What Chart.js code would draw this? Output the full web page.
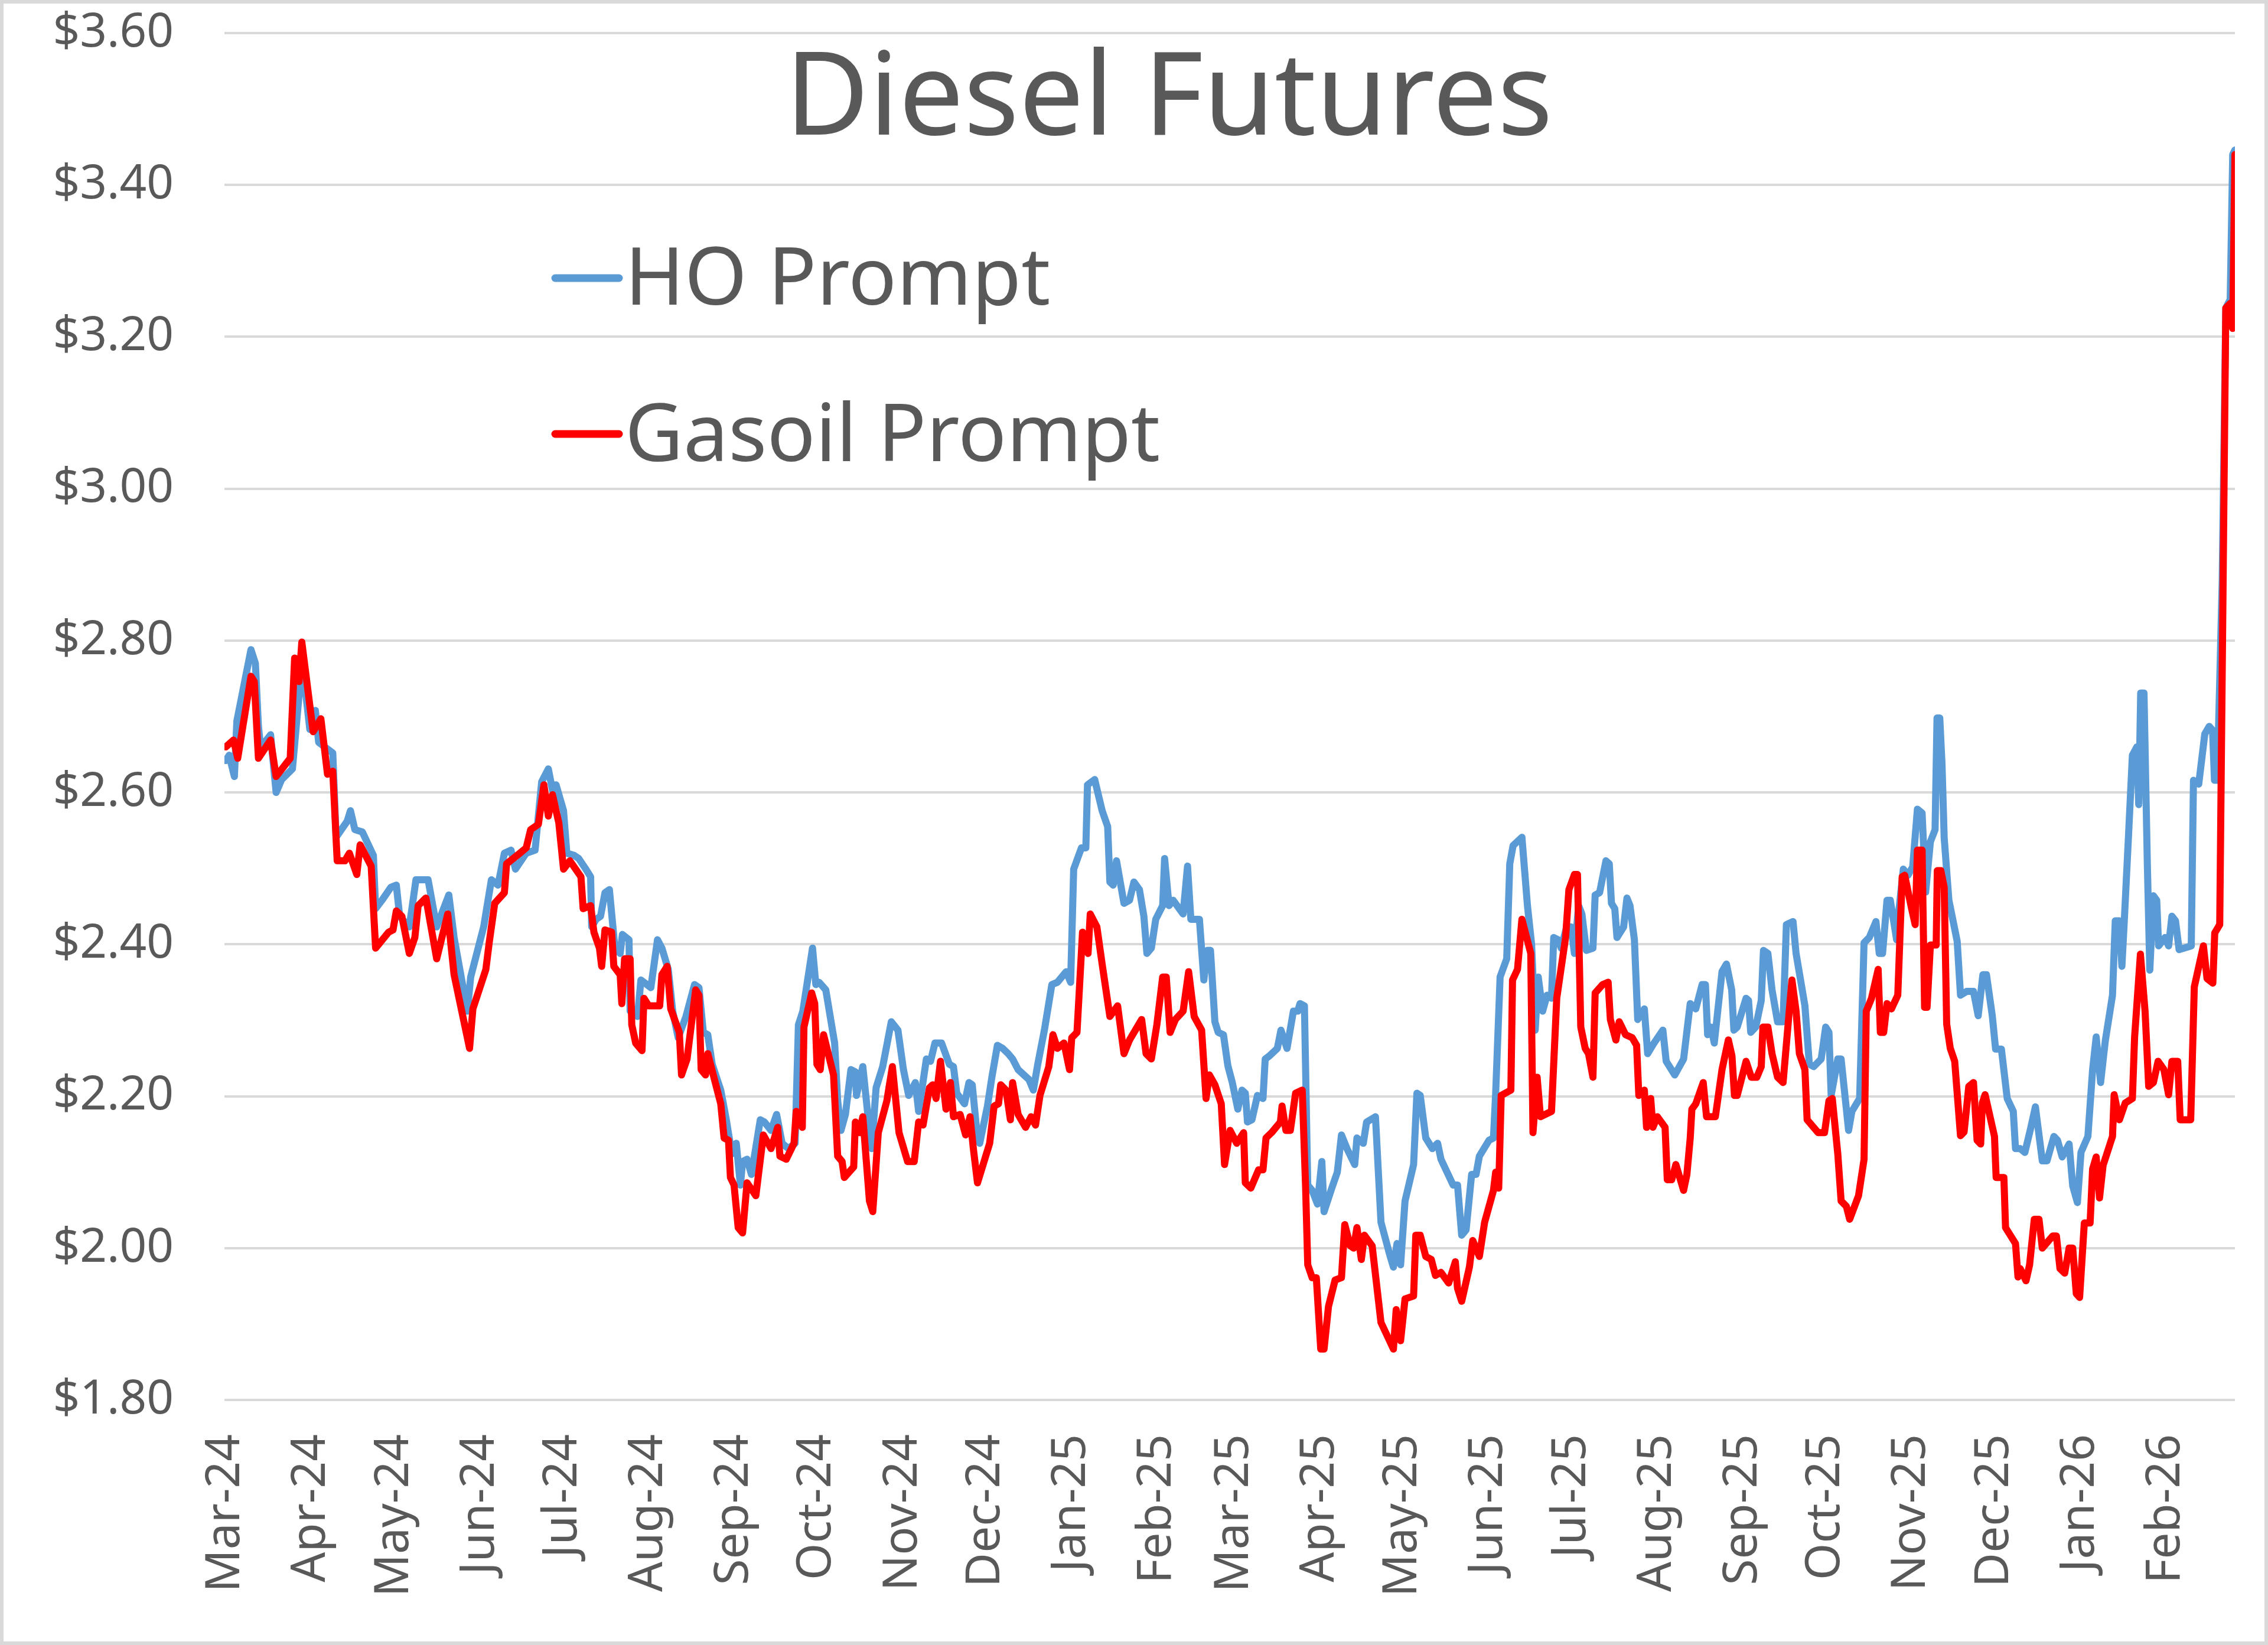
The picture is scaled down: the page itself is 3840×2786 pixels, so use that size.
<!DOCTYPE html>
<html>
<head>
<meta charset="utf-8">
<script src="https://cdn.jsdelivr.net/npm/chart.js@4.4.1/dist/chart.umd.min.js"></script>
<style>
  html, body { margin: 0; padding: 0; background: #ffffff; }
  #wrap { width: 3840px; height: 2786px; }
</style>
</head>
<body>
<div id="wrap"><canvas id="c" width="3840" height="2786"></canvas></div>
<script>
// x values are calendar days since 1-Mar-2024, y values are $/gal
const chartTitle = 'Diesel Futures';
const seriesNames = ['HO Prompt', 'Gasoil Prompt'];

const monthTickDays = [0,31,61,92,122,153,184,214,245,275,306,337,365,396,426,457,487,518,549,579,610,640,671,702];
const monthLabels = ['Mar-24','Apr-24','May-24','Jun-24','Jul-24','Aug-24','Sep-24','Oct-24','Nov-24','Dec-24',
  'Jan-25','Feb-25','Mar-25','Apr-25','May-25','Jun-25','Jul-25','Aug-25','Sep-25','Oct-25','Nov-25','Dec-25','Jan-26','Feb-26'];
const yTicks = [1.8, 2.0, 2.2, 2.4, 2.6, 2.8, 3.0, 3.2, 3.4, 3.6];

const hoPrompt = [[0,2.642],[1.2,2.649],[3.1,2.621],[4.0,2.694],[9.1,2.788],[10.7,2.770],[11.8,2.687],[12.6,2.659],[16.2,2.676],[18.2,2.600],[20.2,2.617],[24.1,2.631],[26.5,2.728],[27.7,2.770],[30.4,2.683],[32.4,2.708],[33.6,2.666],[38.7,2.652],[39.9,2.541],[43.9,2.562],[45.1,2.576],[46.7,2.551],[49.4,2.548],[53.4,2.517],[54.2,2.447],[56.5,2.458],[59.7,2.475],[61.7,2.478],[62.9,2.437],[66.4,2.423],[68.8,2.485],[73.2,2.485],[76.3,2.423],[80.7,2.465],[82.6,2.409],[87.4,2.312],[88.6,2.357],[93.3,2.423],[96.1,2.485],[98.5,2.478],[100.8,2.520],[103.2,2.524],[104.8,2.499],[108.7,2.520],[111.9,2.524],[114.3,2.614],[116.7,2.631],[118.2,2.603],[119.5,2.610],[122.2,2.576],[123.4,2.520],[126.1,2.517],[127.7,2.513],[130.1,2.500],[132.0,2.489],[132.4,2.423],[134.0,2.433],[135.6,2.437],[137.2,2.468],[138.8,2.472],[140.8,2.395],[142.7,2.388],[143.5,2.413],[145.9,2.406],[146.3,2.312],[149.0,2.305],[150.2,2.353],[153.8,2.343],[156.2,2.406],[157.8,2.395],[160.1,2.367],[161.7,2.312],[163.7,2.277],[166.5,2.305],[169.6,2.347],[171.2,2.343],[172.8,2.284],[174.4,2.281],[176.0,2.242],[179.1,2.208],[181.1,2.169],[183.1,2.124],[184.7,2.138],[186.2,2.083],[187.0,2.114],[188.6,2.117],[190.2,2.097],[193.4,2.169],[194.9,2.166],[197.3,2.155],[199.3,2.176],[201.3,2.138],[203.6,2.131],[206.0,2.138],[207.2,2.294],[208.8,2.312],[212.3,2.395],[213.5,2.347],[214.7,2.350],[217.1,2.340],[220.3,2.270],[221.4,2.194],[222.6,2.155],[224.2,2.176],[226.2,2.235],[227.8,2.232],[228.2,2.201],[230.5,2.239],[232.1,2.183],[233.7,2.131],[235.3,2.211],[237.7,2.239],[240.8,2.298],[243.2,2.287],[245.2,2.235],[247.1,2.201],[249.5,2.218],[250.7,2.180],[253.5,2.249],[255.0,2.246],[256.6,2.270],[259.0,2.270],[261.8,2.242],[263.3,2.239],[264.5,2.204],[267.3,2.190],[268.9,2.218],[270.1,2.215],[271.6,2.159],[272.8,2.138],[275.6,2.187],[277.2,2.225],[279.2,2.267],[281.1,2.263],[283.1,2.256],[284.7,2.249],[286.7,2.235],[290.6,2.222],[292.2,2.208],[293.8,2.242],[296.2,2.287],[298.9,2.347],[300.9,2.350],[304.1,2.364],[305.7,2.350],[306.8,2.499],[309.6,2.527],[311.2,2.527],[311.8,2.610],[314.4,2.617],[317.1,2.576],[319.1,2.555],[319.9,2.482],[321.1,2.478],[322.3,2.510],[325.0,2.454],[327.0,2.458],[328.6,2.482],[330.6,2.472],[332.2,2.437],[333.3,2.388],[334.9,2.395],[336.5,2.433],[339.0,2.451],[339.7,2.513],[341.3,2.451],[342.8,2.458],[346.4,2.440],[348.0,2.503],[349.2,2.433],[352.3,2.433],[353.9,2.353],[355.1,2.392],[356.3,2.392],[357.9,2.298],[359.1,2.284],[361.0,2.281],[362.6,2.240],[364.2,2.218],[366.2,2.183],[367.7,2.208],[368.9,2.204],[369.7,2.166],[371.3,2.169],[373.3,2.201],[375.3,2.197],[376.1,2.249],[377.6,2.253],[380.5,2.263],[381.8,2.287],[384.0,2.263],[386.3,2.312],[387.9,2.312],[388.7,2.322],[390.3,2.319],[391.5,2.083],[393.1,2.076],[395.0,2.058],[396.6,2.114],[397.4,2.048],[400.2,2.079],[402.2,2.100],[403.7,2.149],[405.7,2.131],[408.5,2.110],[409.3,2.145],[411.6,2.138],[412.8,2.166],[416.0,2.173],[418.0,2.034],[421.1,1.992],[422.5,1.975],[423.8,2.006],[425.1,1.978],[426.7,2.062],[429.8,2.110],[431.0,2.204],[432.2,2.201],[434.2,2.145],[436.6,2.131],[438.5,2.138],[439.7,2.117],[444.1,2.083],[445.7,2.083],[447.2,2.017],[448.8,2.024],[450.8,2.097],[452.4,2.097],[453.6,2.121],[457.1,2.142],[458.7,2.145],[459.5,2.204],[461.1,2.357],[463.5,2.381],[464.6,2.506],[465.8,2.530],[469.0,2.541],[471.0,2.451],[472.5,2.400],[473.8,2.287],[474.9,2.357],[476.5,2.312],[478.1,2.333],[479.7,2.329],[480.5,2.409],[482.1,2.406],[483.2,2.395],[485.2,2.423],[486.8,2.423],[488.0,2.388],[489.5,2.451],[490.7,2.440],[492.3,2.392],[494.7,2.395],[495.5,2.465],[497.1,2.468],[499.4,2.510],[500.6,2.506],[501.4,2.454],[502.6,2.447],[503.4,2.409],[505.8,2.423],[507.0,2.461],[508.1,2.451],[509.7,2.406],[510.9,2.301],[513.3,2.315],[514.5,2.256],[516.8,2.270],[520.0,2.287],[521.2,2.246],[524.3,2.228],[527.5,2.249],[529.9,2.322],[531.9,2.315],[534.2,2.347],[535.4,2.347],[536.2,2.281],[537.4,2.291],[538.6,2.270],[541.4,2.364],[543.0,2.374],[544.9,2.340],[545.7,2.287],[546.9,2.291],[550.1,2.329],[551.0,2.326],[551.8,2.284],[553.6,2.291],[555.6,2.326],[556.4,2.392],[558.0,2.388],[559.5,2.340],[561.5,2.298],[563.5,2.298],[564.7,2.426],[567.1,2.430],[568.2,2.388],[571.4,2.319],[573.0,2.242],[574.6,2.239],[577.3,2.249],[578.9,2.291],[580.1,2.284],[580.9,2.201],[583.3,2.249],[584.5,2.249],[586.4,2.183],[587.2,2.155],[588.4,2.180],[591.2,2.197],[592.8,2.402],[594.7,2.409],[597.1,2.430],[598.3,2.388],[599.5,2.388],[601.1,2.458],[602.3,2.458],[604.6,2.406],[605.4,2.444],[607.0,2.499],[608.7,2.491],[610.4,2.502],[612.1,2.578],[613.8,2.573],[615.1,2.469],[616.8,2.535],[618.5,2.551],[619.2,2.698],[620.2,2.698],[621.0,2.638],[621.8,2.540],[623.5,2.458],[626.5,2.404],[627.7,2.333],[629.9,2.338],[632.4,2.338],[634.1,2.306],[635.8,2.360],[637.1,2.360],[639.2,2.306],[640.4,2.262],[642.5,2.262],[644.6,2.197],[646.8,2.180],[647.6,2.131],[649.3,2.131],[651.0,2.126],[653.1,2.158],[654.8,2.186],[657.3,2.115],[659.0,2.115],[661.5,2.147],[662.8,2.142],[664.5,2.120],[667.0,2.137],[668.3,2.082],[670.0,2.060],[671.3,2.126],[673.8,2.147],[675.5,2.235],[676.8,2.278],[678.4,2.218],[680.1,2.273],[682.7,2.333],[683.7,2.431],[685.2,2.431],[686.1,2.371],[686.9,2.426],[688.6,2.551],[689.9,2.649],[691.5,2.660],[692.2,2.584],[692.9,2.731],[694.1,2.731],[695.3,2.507],[696.2,2.366],[697.5,2.464],[698.7,2.458],[699.4,2.398],[701.7,2.409],[703.0,2.398],[704.2,2.437],[705.5,2.431],[706.8,2.393],[711.2,2.398],[712.0,2.616],[713.9,2.611],[716.1,2.677],[717.7,2.687],[718.9,2.682],[719.6,2.616],[720.6,2.616],[722.4,2.878],[723.7,3.238],[725.3,3.249],[726.2,3.440],[727.0,3.446]];

const gasoilPrompt = [[0,2.660],[2.8,2.669],[4.3,2.645],[9.1,2.753],[10.3,2.746],[11.8,2.645],[16.2,2.669],[18.2,2.621],[23.3,2.645],[24.9,2.777],[26.5,2.746],[27.5,2.798],[31.6,2.680],[34.4,2.697],[36.8,2.624],[38.7,2.628],[40.3,2.510],[43.1,2.510],[44.7,2.520],[47.4,2.492],[48.6,2.531],[52.6,2.503],[54.2,2.395],[58.9,2.416],[60.5,2.419],[61.7,2.444],[63.7,2.437],[66.4,2.388],[68.4,2.409],[69.6,2.451],[72.4,2.461],[76.3,2.381],[80.3,2.440],[82.6,2.360],[88.2,2.263],[89.4,2.315],[94.1,2.367],[95.3,2.402],[97.3,2.454],[100.8,2.468],[101.6,2.506],[106.4,2.520],[108.7,2.527],[110.3,2.551],[113.1,2.558],[115.1,2.610],[116.7,2.569],[118.2,2.597],[120.5,2.560],[122.2,2.499],[124.5,2.510],[128.5,2.489],[129.3,2.447],[132.0,2.451],[133.2,2.416],[135.2,2.395],[136.0,2.371],[137.2,2.419],[139.6,2.416],[140.4,2.371],[142.7,2.360],[143.3,2.322],[144.3,2.381],[146.3,2.381],[146.9,2.294],[148.3,2.270],[150.6,2.260],[151.3,2.329],[153.0,2.319],[157.0,2.319],[157.8,2.360],[159.7,2.371],[161.0,2.315],[164.1,2.284],[164.9,2.228],[166.9,2.249],[170.0,2.340],[171.2,2.333],[172.0,2.235],[173.6,2.228],[174.4,2.256],[179.1,2.190],[180.3,2.145],[181.9,2.142],[182.6,2.093],[183.9,2.083],[185.4,2.027],[187.0,2.020],[188.6,2.086],[191.8,2.069],[194.5,2.149],[197.3,2.131],[199.7,2.159],[200.5,2.121],[202.8,2.117],[205.6,2.138],[206.4,2.180],[208.6,2.159],[209.2,2.291],[212.0,2.336],[213.1,2.322],[213.9,2.242],[215.1,2.235],[216.3,2.281],[219.9,2.228],[221.4,2.121],[223.0,2.114],[223.8,2.093],[225.5,2.100],[227.2,2.107],[227.8,2.166],[229.3,2.152],[230.5,2.173],[232.9,2.062],[234.1,2.048],[236.1,2.152],[239.2,2.194],[241.2,2.239],[243.6,2.152],[246.7,2.114],[249.1,2.114],[250.7,2.166],[252.3,2.162],[254.6,2.211],[255.8,2.215],[257.0,2.197],[258.6,2.246],[260.6,2.183],[262.2,2.218],[263.3,2.173],[265.7,2.176],[267.7,2.149],[269.3,2.173],[270.5,2.131],[272.0,2.086],[276.4,2.138],[278.0,2.187],[279.6,2.190],[280.4,2.215],[282.3,2.208],[283.9,2.169],[284.7,2.218],[286.7,2.176],[289.4,2.159],[291.4,2.173],[293.0,2.162],[294.6,2.201],[297.8,2.239],[299.3,2.281],[300.9,2.263],[303.3,2.270],[305.3,2.235],[306.1,2.277],[308.0,2.284],[310.0,2.416],[312.0,2.388],[312.8,2.440],[315.2,2.423],[317.1,2.374],[319.9,2.305],[322.7,2.319],[325.0,2.256],[327.0,2.274],[331.4,2.301],[333.0,2.256],[334.9,2.249],[336.9,2.294],[339.0,2.357],[340.3,2.357],[341.7,2.284],[343.6,2.301],[346.4,2.312],[348.4,2.364],[350.4,2.305],[353.1,2.287],[354.7,2.197],[355.9,2.228],[357.9,2.215],[360.2,2.190],[361.4,2.110],[363.4,2.155],[365.8,2.138],[368.3,2.152],[368.9,2.086],[370.9,2.079],[373.7,2.103],[375.3,2.103],[376.4,2.145],[378.4,2.152],[381.6,2.166],[382.2,2.187],[383.6,2.155],[385.2,2.155],[387.1,2.204],[389.5,2.208],[390.7,2.083],[391.5,1.978],[393.1,1.961],[394.6,1.961],[396.2,1.867],[397.4,1.867],[399.0,1.923],[401.4,1.958],[403.7,1.961],[404.9,2.031],[406.9,2.003],[408.1,2.000],[409.3,2.027],[410.9,1.985],[412.0,2.017],[414.8,2.003],[418.0,1.902],[421.1,1.878],[422.5,1.867],[423.5,1.919],[425.1,1.878],[426.7,1.933],[429.8,1.937],[430.6,2.017],[432.2,2.017],[434.2,1.989],[436.2,1.985],[437.7,1.964],[439.7,1.968],[442.5,1.954],[444.9,1.982],[445.7,1.947],[447.2,1.930],[450.0,1.975],[451.2,2.010],[453.6,1.989],[455.5,2.034],[458.7,2.076],[459.5,2.100],[460.6,2.079],[461.5,2.201],[465.0,2.208],[465.6,2.353],[467.4,2.367],[469.0,2.433],[472.2,2.388],[473.0,2.152],[474.5,2.225],[475.7,2.173],[479.7,2.180],[481.6,2.329],[484.8,2.409],[486.0,2.472],[488.0,2.492],[489.1,2.492],[490.3,2.291],[491.9,2.263],[493.1,2.256],[494.7,2.225],[495.5,2.336],[498.2,2.347],[500.2,2.350],[501.0,2.301],[503.0,2.274],[504.2,2.298],[506.5,2.281],[508.9,2.277],[510.5,2.267],[511.3,2.201],[513.3,2.208],[514.1,2.159],[515.6,2.197],[516.4,2.159],[518.0,2.173],[520.8,2.159],[521.6,2.090],[523.2,2.090],[524.7,2.110],[527.5,2.076],[528.7,2.097],[529.9,2.145],[530.5,2.183],[531.9,2.190],[534.6,2.218],[535.8,2.173],[539.0,2.173],[541.4,2.235],[543.7,2.274],[545.0,2.253],[545.9,2.201],[546.9,2.201],[550.1,2.246],[552.0,2.225],[554.0,2.225],[555.6,2.239],[556.2,2.291],[558.0,2.291],[559.5,2.256],[561.5,2.225],[563.5,2.218],[566.7,2.353],[568.2,2.312],[569.4,2.256],[571.4,2.235],[572.2,2.169],[576.2,2.152],[578.5,2.152],[580.1,2.194],[581.3,2.197],[583.3,2.124],[584.5,2.062],[586.4,2.055],[587.6,2.038],[590.8,2.069],[592.8,2.117],[593.6,2.312],[595.5,2.329],[597.9,2.367],[598.7,2.284],[599.9,2.284],[601.1,2.322],[602.7,2.315],[605.0,2.333],[606.6,2.489],[607.5,2.491],[610.0,2.447],[611.3,2.426],[612.1,2.524],[613.8,2.524],[614.7,2.317],[615.6,2.317],[616.8,2.399],[618.9,2.399],[619.3,2.497],[620.6,2.497],[621.8,2.475],[622.7,2.295],[624.0,2.263],[625.6,2.246],[627.7,2.148],[629.0,2.153],[630.7,2.213],[632.4,2.218],[633.7,2.142],[635.0,2.137],[635.6,2.191],[636.6,2.202],[640.0,2.147],[640.6,2.093],[643.4,2.093],[644.0,2.027],[647.6,2.006],[648.5,1.962],[649.3,1.973],[651.4,1.957],[652.7,1.978],[654.4,2.038],[656.1,2.038],[657.3,2.000],[661.1,2.016],[662.4,2.016],[663.7,1.973],[665.4,1.967],[667.0,2.000],[668.3,2.000],[669.6,1.940],[670.8,1.935],[672.5,2.033],[674.6,2.033],[675.5,2.104],[676.8,2.120],[678.0,2.066],[679.3,2.109],[682.7,2.147],[683.3,2.202],[685.2,2.169],[687.3,2.191],[689.9,2.197],[690.7,2.278],[692.8,2.387],[694.5,2.311],[695.8,2.213],[697.5,2.218],[699.2,2.246],[701.3,2.235],[703.0,2.202],[704.2,2.246],[706.3,2.246],[707.2,2.169],[711.0,2.169],[712.3,2.344],[715.6,2.398],[716.9,2.355],[719.0,2.349],[719.7,2.415],[721.5,2.426],[723.7,3.238],[725.3,3.244],[726.2,3.211],[727.0,3.440]];

const TEXT = '#595959';
const FONT = '"Noto Sans", "Open Sans", sans-serif';

const frame = {
  id: 'frame',
  beforeDraw(chart) {
    const ctx = chart.ctx;
    ctx.save();
    ctx.fillStyle = '#ffffff';
    ctx.fillRect(0, 0, chart.width, chart.height);
    ctx.restore();
  },
  afterDraw(chart) {
    const ctx = chart.ctx;
    ctx.save();
    ctx.strokeStyle = '#D9D9D9';
    ctx.lineWidth = 6;
    ctx.strokeRect(3, 3, chart.width - 6, chart.height - 6);
    // title
    ctx.fillStyle = TEXT;
    ctx.font = '195px ' + FONT;
    ctx.textAlign = 'center';
    ctx.textBaseline = 'alphabetic';
    ctx.fillText(chartTitle, 1979, 228);
    // legend
    const rows = [{ y: 471, base: 516 }, { y: 735, base: 781 }];
    chart.data.datasets.forEach((ds, i) => {
      const r = rows[i];
      ctx.strokeStyle = ds.borderColor;
      ctx.lineWidth = 13;
      ctx.lineCap = 'round';
      ctx.beginPath();
      ctx.moveTo(940, r.y);
      ctx.lineTo(1048, r.y);
      ctx.stroke();
      ctx.fillStyle = TEXT;
      ctx.font = '136px ' + FONT;
      ctx.textAlign = 'left';
      ctx.fillText(ds.label, 1058, r.base);
    });
    ctx.restore();
  }
};

const toXY = arr => arr.map(p => ({ x: p[0], y: p[1] }));

new Chart(document.getElementById('c'), {
  type: 'line',
  data: {
    datasets: [
      { label: seriesNames[0], data: toXY(hoPrompt), borderColor: '#5B9BD5', borderWidth: 12, order: 1,
        pointRadius: 0, tension: 0, borderJoinStyle: 'round', borderCapStyle: 'round', fill: false },
      { label: seriesNames[1], data: toXY(gasoilPrompt), borderColor: '#FF0000', borderWidth: 12, order: 0,
        pointRadius: 0, tension: 0, borderJoinStyle: 'round', borderCapStyle: 'round', fill: false }
    ]
  },
  options: {
    responsive: false,
    devicePixelRatio: 1,
    animation: false,
    layout: { padding: { top: 56, right: 56, left: 0, bottom: 0 } },
    plugins: { legend: { display: false }, title: { display: false }, tooltip: { enabled: false } },
    scales: {
      x: {
        type: 'linear', min: -0.5, max: 727,
        grid: { display: false, drawTicks: false },
        border: { display: false },
        afterBuildTicks: axis => { axis.ticks = monthTickDays.map(v => ({ value: v })); },
        afterFit: axis => { axis.height = 415; axis.paddingLeft = 0; axis.paddingRight = 0; },
        ticks: {
          autoSkip: false, minRotation: 90, maxRotation: 90, padding: 58,
          color: TEXT, font: { family: FONT, size: 80 },
          callback: (v, i) => monthLabels[i]
        }
      },
      y: {
        type: 'linear', min: 1.8, max: 3.6,
        grid: { color: '#D9D9D9', lineWidth: 4, drawTicks: false },
        border: { display: false },
        afterBuildTicks: axis => { axis.ticks = yTicks.map(v => ({ value: v })); },
        afterFit: axis => { axis.width = 380; axis.paddingTop = 0; axis.paddingBottom = 0; },
        ticks: {
          padding: 86, color: TEXT, font: { family: FONT, size: 80 },
          callback: v => '$' + Number(v).toFixed(2)
        }
      }
    }
  },
  plugins: [frame]
});
</script>
</body>
</html>
